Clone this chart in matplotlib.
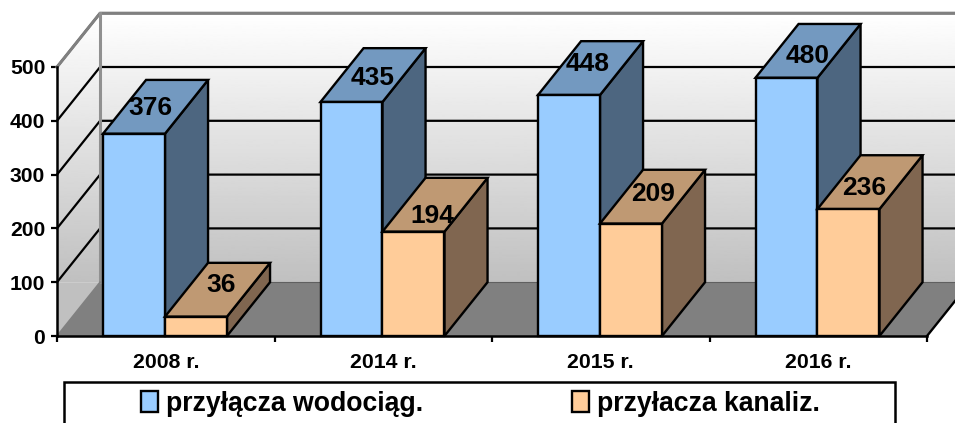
import numpy as np
import matplotlib
matplotlib.use('Agg')
import matplotlib.pyplot as plt
from matplotlib.patches import Polygon, Rectangle

plt.rcParams['font.family'] = ['Liberation Sans', 'DejaVu Sans']
plt.rcParams['font.weight'] = 'bold'

# dane
lata = ['2008 r.', '2014 r.', '2015 r.', '2016 r.']
wodociag = [376, 435, 448, 480]
kanaliz = [36, 194, 209, 236]
nazwy = ['przyłącza wodociąg.', 'przyłacza kanaliz.']
y_ticks = [0, 100, 200, 300, 400, 500]

# kolory: przod, gora, bok
kol_wod = ['#99CCFF', '#7399C0', '#4D6680']
kol_kan = ['#FFCC99', '#BF9973', '#806650']

# glebokosc wykresu 3D w jednostkach danych
dx = 0.198
dy = 100
szer = 0.285
start = 0.2115

# przesuniecia etykiet w punktach (recznie, jak w oryginale)
off_wod = [(11.5, 18.5), (15.5, 17), (13.5, 22.5), (15.5, 16)]
off_kan = [(18, 22.5), (13.5, 11.5), (16, 21.5), (11, 15.5)]

fig = plt.figure(figsize=(9.55, 4.23), dpi=100)
ax = fig.add_axes([57 / 955, (423 - 336) / 423, 870 / 955, 269 / 423])
ax.set_xlim(0, 4)
ax.set_ylim(0, 500)
ax.patch.set_visible(False)

n_x = 4


def poly(pts, fc, ec='black', lw=1.7, z=3):
    p = Polygon(pts, closed=True, facecolor=fc, edgecolor=ec, linewidth=lw,
                clip_on=False, zorder=z, joinstyle='miter')
    ax.add_patch(p)
    return p


# sciany z gradientem
grad = np.linspace(1, 0.753, 256).reshape(-1, 1)
sciana_tyl = Polygon([(dx, dy), (n_x + dx, dy), (n_x + dx, 500 + dy), (dx, 500 + dy)],
                     transform=ax.transData, facecolor='none', edgecolor='none')
sciana_bok = Polygon([(0, 0), (dx, dy), (dx, 500 + dy), (0, 500)],
                     transform=ax.transData, facecolor='none', edgecolor='none')
for sc in [sciana_tyl, sciana_bok]:
    ax.add_patch(sc)
    im = ax.imshow(grad, cmap='gray', vmin=0, vmax=1, aspect='auto',
                   extent=[0, n_x + dx, dy, 500 + dy], origin='upper', zorder=1)
    im.set_clip_box(fig.bbox)
    im.set_clip_path(sc)
bok_dol = Polygon([(0, 0), (dx, dy), (0, dy)], facecolor='#C0C0C0', edgecolor='none',
                  clip_on=False, zorder=1)
ax.add_patch(bok_dol)
ax.set_xlim(0, 4)
ax.set_ylim(0, 500)

# podloga
poly([(0, 0), (dx, dy), (n_x + dx, dy), (n_x, 0)], '#808080', ec='none', z=1.5)
ax.plot([dx, n_x + dx], [dy, dy], color='#606060', lw=0.8, clip_on=False, zorder=1.6)
ax.plot([n_x, n_x + dx], [0, dy], color='black', lw=1.7, clip_on=False, zorder=1.6)

# linie siatki
for v in y_ticks[1:-1] + [500]:
    ax.plot([0, dx, n_x + dx], [v, v + dy, v + dy], color='black', lw=1.6,
            clip_on=False, zorder=2, solid_joinstyle='miter')

# ramka szara
ax.plot([0, dx, n_x + dx], [500, 500 + dy, 500 + dy], color='#808080', lw=2.2,
        clip_on=False, zorder=2.1)
ax.plot([dx, dx], [dy, 500 + dy], color='#909090', lw=2.2, clip_on=False, zorder=2.1)
ax.plot([0, dx], [0, dy], color='#808080', lw=1.2, clip_on=False, zorder=2.1)


def slupek(x, v, kol):
    poly([(x + szer, 0), (x + szer + dx, dy), (x + szer + dx, v + dy), (x + szer, v)], kol[2])
    poly([(x, v), (x + dx, v + dy), (x + szer + dx, v + dy), (x + szer, v)], kol[1])
    poly([(x, 0), (x + szer, 0), (x + szer, v), (x, v)], kol[0])


for i in range(len(lata)):
    x0 = i + start
    slupek(x0, wodociag[i], kol_wod)
    slupek(x0 + szer, kanaliz[i], kol_kan)

for i in range(len(lata)):
    x0 = i + start
    ax.annotate(str(wodociag[i]), (x0 + szer / 2, wodociag[i]), xytext=off_wod[i],
                textcoords='offset points', ha='center', va='center',
                fontsize=19, fontweight='bold', zorder=5, annotation_clip=False)
    ax.annotate(str(kanaliz[i]), (x0 + szer * 1.5, kanaliz[i]), xytext=off_kan[i],
                textcoords='offset points', ha='center', va='center',
                fontsize=19, fontweight='bold', zorder=5, annotation_clip=False)

# osie
for s in ['top', 'right']:
    ax.spines[s].set_visible(False)
for s in ['left', 'bottom']:
    ax.spines[s].set_linewidth(1.8)
    ax.spines[s].set_zorder(4)
ax.set_yticks(y_ticks)
ax.set_yticklabels([str(t) for t in y_ticks], fontsize=15.2, fontweight='bold')
ax.tick_params(axis='y', length=4, width=1.6, pad=4.5)
ax.set_xticks(range(n_x + 1))
ax.set_xticklabels([])
ax.tick_params(axis='x', which='major', length=4, width=1.6)
ax.set_xticks(np.arange(len(lata)) + 0.5, minor=True)
ax.set_xticklabels(lata, minor=True, fontsize=15.3, fontweight='bold')
ax.tick_params(axis='x', which='minor', length=0, pad=12)

# legenda: ramka wychodzi poza dol obrazka
fig.add_artist(Rectangle((64 / 955, -0.05), 831 / 955, (423 - 382.5) / 423 + 0.05,
                         transform=fig.transFigure, facecolor='white',
                         edgecolor='black', linewidth=1.8))
uchwyty = [Rectangle((0, 0), 1, 1, facecolor=kol_wod[0], edgecolor='black', linewidth=1.7),
           Rectangle((0, 0), 1, 1, facecolor=kol_kan[0], edgecolor='black', linewidth=1.7)]
leg = fig.legend(uchwyty, nazwy, ncol=2, loc='center left',
                 bbox_to_anchor=(128 / 955, (423 - 403.5) / 423), frameon=False,
                 prop={'size': 19.2, 'weight': 'bold'}, handlelength=0.64, handleheight=0.85,
                 handletextpad=0.3, columnspacing=5.56, borderpad=0, borderaxespad=0.5)
leg.set_zorder(6)

fig.savefig('out.png', dpi=100)
